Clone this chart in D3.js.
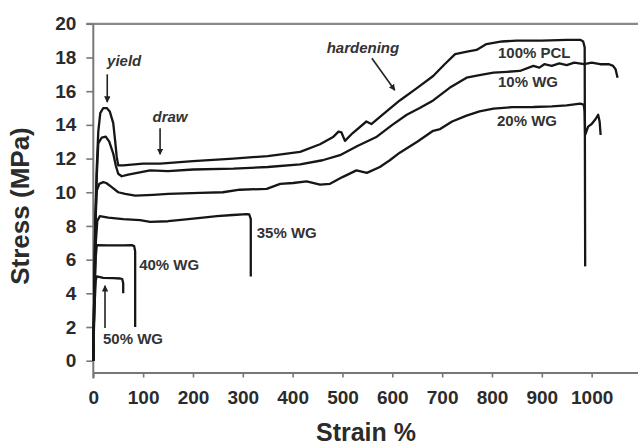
<!DOCTYPE html>
<meta charset="utf-8">
<script src="https://d3js.org/d3.v7.min.js"></script>
<style>
  body { margin: 0; background: #fff; }
  text { font-family: "Liberation Sans", Arial, sans-serif; font-weight: bold; fill: #2b2b2b; }
</style>
<svg width="638" height="446"></svg>
<script>
// strain (%), stress (MPa)
var pcl100 = [[0,0],[2,4],[4,8.3],[7,11.5],[10,13.6],[14,14.7],[20,15.0],[27,15.0],[33,14.8],[40,14.1],
  [44,13.0],[47,12.1],[50,11.6],[60,11.6],[100,11.7],[134,11.7],[200,11.85],[281,12.0],[350,12.15],
  [415,12.4],[455,12.85],[482,13.3],[492,13.6],[498,13.55],[505,13.05],[520,13.5],[548,14.2],[558,14.05],
  [580,14.6],[615,15.45],[650,16.2],[682,16.9],[705,17.6],[726,18.2],[750,18.35],[769,18.45],[789,18.8],
  [820,18.95],[849,19.0],[900,19.0],[950,19.05],[977,19.05],[983,18.95],[986,18.6],[987,5.6]];

var wg10 = [[0,0],[2,4],[4,8],[7,11],[10,12.9],[17,13.25],[25,13.3],[32,13.0],[40,12.3],[45,11.6],
  [50,11.1],[57,10.95],[70,11.05],[114,11.3],[150,11.25],[200,11.35],[281,11.4],[350,11.5],[415,11.65],
  [460,11.9],[495,12.2],[530,12.75],[569,13.3],[600,14.0],[629,14.6],[655,15.0],[682,15.45],[715,16.2],
  [749,16.8],[775,16.95],[803,17.1],[830,17.15],[856,17.2],[883,17.5],[895,17.4],[905,17.6],[920,17.5],
  [935,17.65],[950,17.55],[965,17.7],[985,17.6],[1000,17.7],[1017,17.6],[1035,17.6],[1043,17.5],
  [1048,17.3],[1052,16.8]];

var wg20 = [[0,0],[2,4],[4,8],[7,10.1],[12,10.5],[20,10.6],[26,10.55],[37,10.3],[50,10.0],[64,9.9],
  [84,9.8],[120,9.85],[150,9.9],[214,9.96],[260,10.0],[294,10.15],[348,10.2],[375,10.5],[401,10.55],
  [428,10.65],[455,10.45],[475,10.5],[500,10.9],[528,11.3],[549,11.15],[575,11.5],[595,11.9],[615,12.35],
  [650,13.0],[682,13.65],[696,13.75],[720,14.2],[749,14.55],[775,14.8],[803,14.96],[840,15.05],[883,15.06],
  [920,15.1],[950,15.16],[977,15.26],[984,15.2],[986,14.8],[987,13.4],[993,13.9],[1000,14.05],
  [1008,14.35],[1013,14.6],[1016,14.2],[1018,13.4]];

var wg35 = [[0,0],[2,4],[5,7],[8,8.3],[13,8.58],[30,8.5],[60,8.4],[94,8.34],[114,8.24],[150,8.28],
  [181,8.38],[220,8.5],[248,8.58],[280,8.65],[308,8.7],[313,8.68],[316,8.4],[316,5.0]];

var wg40 = [[0,0],[2,3.5],[5,6.2],[7,6.86],[30,6.85],[60,6.85],[77,6.86],[82,6.8],[84,6.5],[84,2.0]];

var wg50 = [[0,0],[2,3],[5,4.8],[7,5.0],[20,4.92],[40,4.9],[54,4.88],[58,4.85],[60,4.6],[60,4.0]];

var curves = [pcl100, wg10, wg20, wg35, wg40, wg50];

var xTicks = [0,100,200,300,400,500,600,700,800,900,1000];
var yTicks = [0,2,4,6,8,10,12,14,16,18,20];

// labels: text, strain, stress (baseline), anchor, italic
var labels = [
  ["yield", 62, 17.5, "middle", true],
  ["draw", 154, 14.17, "middle", true],
  ["hardening", 541, 18.26, "middle", true],
  ["100% PCL", 812, 17.96, "start", false],
  ["10% WG", 812, 16.24, "start", false],
  ["20% WG", 810, 13.93, "start", false],
  ["35% WG", 328, 7.28, "start", false],
  ["40% WG", 92, 5.38, "start", false],
  ["50% WG", 19.5, 0.99, "start", false]
];

// arrows: from [strain, stress] to [strain, stress]
var arrows = [
  [[28, 17.0], [28, 15.35]],
  [[134, 13.8], [134, 12.25]],
  [[559, 17.95], [605, 16.05]],
  [[23.5, 1.94], [23.5, 4.45]]
];

var svg = d3.select("svg");

var x = d3.scaleLinear().domain([0, 1093]).range([93.3, 638]);
var y = d3.scaleLinear().domain([-0.7, 20]).range([372.5, 23.8]);

svg.append("defs").append("marker")
    .attr("id", "head")
    .attr("viewBox", "0 0 10 10")
    .attr("refX", 9).attr("refY", 5)
    .attr("markerWidth", 4).attr("markerHeight", 4)
    .attr("orient", "auto")
  .append("path")
    .attr("d", "M0,0L10,5L0,10z")
    .style("fill", "#222");

// frame line at 20
svg.append("line")
    .attr("x1", x(0) - 7).attr("x2", 638)
    .attr("y1", y(20)).attr("y2", y(20))
    .style("stroke", "#8a8a8a").style("stroke-width", 2.2);

var yAxis = svg.append("g")
    .attr("transform", "translate(" + x(0) + ",0)")
    .call(d3.axisLeft(y).tickValues(yTicks).tickSize(7).tickSizeOuter(0).tickPadding(10));

var xAxis = svg.append("g")
    .attr("transform", "translate(0," + y(-0.7) + ")")
    .call(d3.axisBottom(x).tickValues(xTicks).tickFormat(d3.format("d"))
      .tickSize(5).tickSizeOuter(0).tickPadding(13));

[xAxis, yAxis].forEach(function(a) {
  a.select(".domain").style("stroke", "#777").style("stroke-width", 2);
  a.selectAll(".tick line").style("stroke", "#777").style("stroke-width", 1.6);
  a.selectAll(".tick text").style("font-size", "19px").style("fill", "#2b2b2b")
    .style("font-family", "'Liberation Sans', Arial, sans-serif").style("font-weight", "bold");
});
yAxis.select(".domain").attr("d", "M0," + y(20) + "V" + (y(-0.7) + 6));

var line = d3.line()
    .x(function(d) { return x(d[0]); })
    .y(function(d) { return y(d[1]); });

svg.append("g")
  .selectAll("path")
  .data(curves)
  .enter().append("path")
    .attr("d", line)
    .style("fill", "none")
    .style("stroke", "#161616")
    .style("stroke-width", 2.3)
    .style("stroke-linejoin", "round");

svg.append("g")
  .selectAll("line")
  .data(arrows)
  .enter().append("line")
    .attr("x1", function(d) { return x(d[0][0]); })
    .attr("y1", function(d) { return y(d[0][1]); })
    .attr("x2", function(d) { return x(d[1][0]); })
    .attr("y2", function(d) { return y(d[1][1]); })
    .style("stroke", "#222")
    .style("stroke-width", 1.6)
    .attr("marker-end", "url(#head)");

svg.append("g")
  .selectAll("text")
  .data(labels)
  .enter().append("text")
    .attr("x", function(d) { return x(d[1]); })
    .attr("y", function(d) { return y(d[2]); })
    .attr("text-anchor", function(d) { return d[3]; })
    .style("font-style", function(d) { return d[4] ? "italic" : "normal"; })
    .style("font-size", "15px")
    .style("fill", "#333")
    .text(function(d) { return d[0]; });

svg.append("text")
    .attr("transform", "translate(29,206) rotate(-90)")
    .attr("text-anchor", "middle")
    .style("font-size", "26px")
    .text("Stress (MPa)");

svg.append("text")
    .attr("x", 366).attr("y", 441)
    .attr("text-anchor", "middle")
    .style("font-size", "25px")
    .text("Strain %");
</script>
